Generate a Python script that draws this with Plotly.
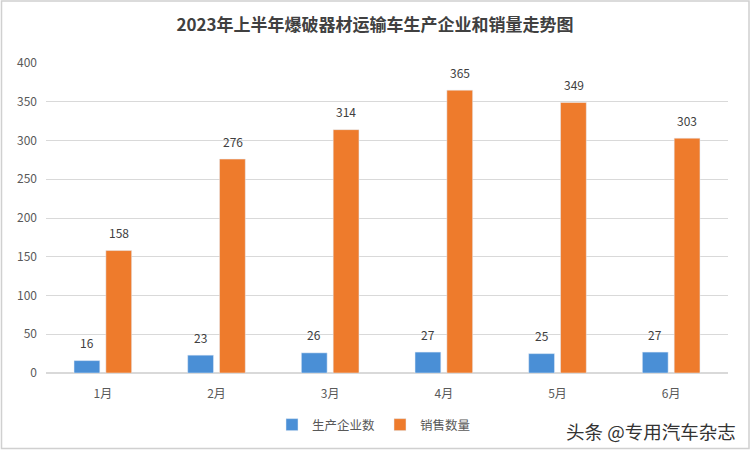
import plotly.graph_objects as go

months = ["1月", "2月", "3月", "4月", "5月", "6月"]
companies = [16, 23, 26, 27, 25, 27]
sales = [158, 276, 314, 365, 349, 303]
series_names = ["生产企业数", "销售数量"]
title_text = "2023年上半年爆破器材运输车生产企业和销量走势图"
watermark = "头条 @专用汽车杂志"

FONT = "Noto Sans CJK SC"
BLUE = "#4a8fd6"
ORANGE = "#ee7b2c"

fig = go.Figure()
fig.add_trace(go.Bar(x=months, y=companies, name=series_names[0], marker_color=BLUE))
fig.add_trace(go.Bar(x=months, y=sales, name=series_names[1], marker_color=ORANGE))

L, R, T, B = 46, 22, 63, 79
W, H = 750, 452
pw, ph = W - L - R, H - T - B

annotations = []
for m, v in zip(months, companies):
    annotations.append(dict(x=m, y=v, xref="x", yref="y", text=str(v), showarrow=False,
                            xshift=-16, yshift=18, font=dict(family=FONT, size=12, color="#404040")))
for m, v in zip(months, sales):
    annotations.append(dict(x=m, y=v, xref="x", yref="y", text=str(v), showarrow=False,
                            xshift=16, yshift=18, font=dict(family=FONT, size=12, color="#404040")))
annotations.append(dict(x=(738 - L) / pw, y=(H - B - 431) / ph, xref="paper", yref="paper",
                        text=watermark, showarrow=False, xanchor="right", yanchor="middle",
                        font=dict(family=FONT, size=18.5, color="#333333")))

fig.update_layout(
    width=W, height=H,
    margin=dict(l=L, r=R, t=T, b=B),
    paper_bgcolor="white", plot_bgcolor="white",
    title=dict(text="<b>" + title_text + "</b>", x=0.5, xanchor="center", xref="container",
               y=1 - 25 / H, yanchor="middle", yref="container",
               font=dict(family=FONT, size=17, color="#404040")),
    barmode="group", bargap=0.44, bargroupgap=0.19,
    showlegend=True,
    legend=dict(orientation="h", x=(374 - L) / pw, xanchor="center", y=(H - B - 425) / ph,
                yanchor="middle", font=dict(family=FONT, size=12.5, color="#595959"),
                itemwidth=30, traceorder="normal", tracegroupgap=0),
    xaxis=dict(showgrid=False, showline=False, ticks="", ticklabelstandoff=12,
               tickfont=dict(family=FONT, size=12, color="#595959")),
    yaxis=dict(range=[0, 400], dtick=50, showgrid=True, gridcolor="#d9d9d9", gridwidth=1,
               zeroline=True, zerolinecolor="#d9d9d9", showline=False, ticks="",
               ticklabelstandoff=8,
               tickfont=dict(family=FONT, size=12, color="#595959")),
    annotations=annotations,
    shapes=[dict(type="rect", xref="paper", yref="paper",
                 x0=(1.5 - L) / pw, x1=(749 - L) / pw,
                 y0=(H - B - 448.5) / ph, y1=(H - B - 1) / ph,
                 line=dict(color="#d0d0d0", width=1.5), layer="below")],
)

fig.write_html("out.html")
